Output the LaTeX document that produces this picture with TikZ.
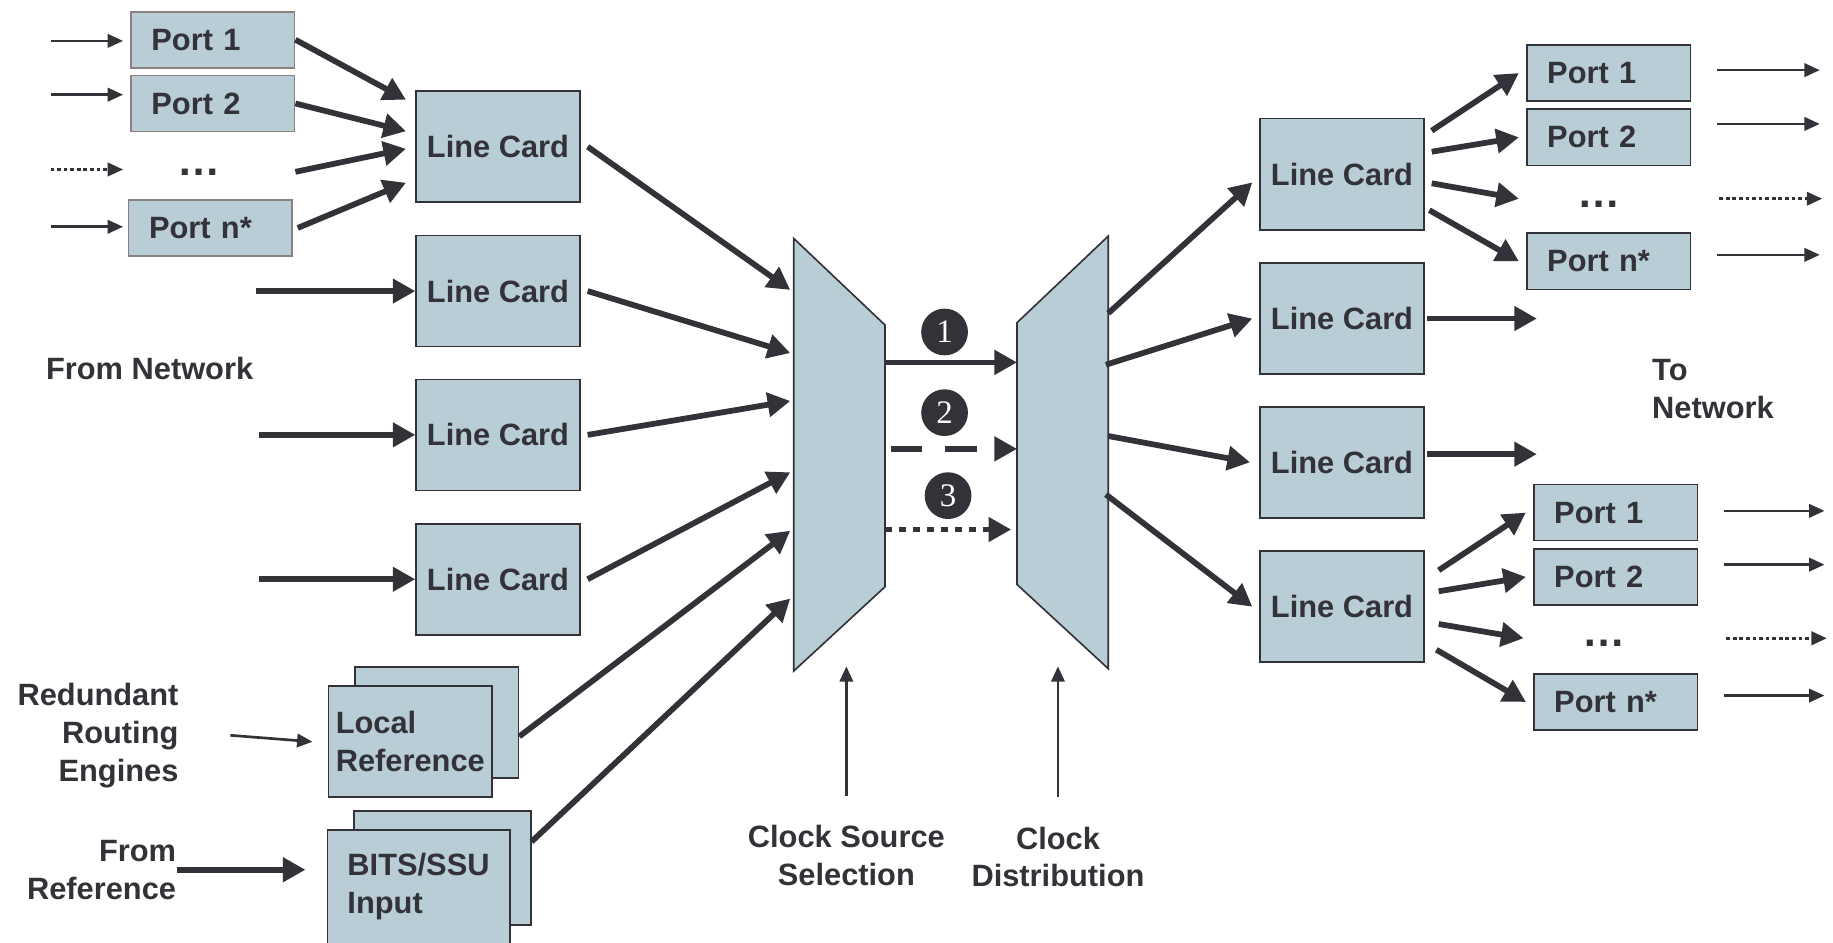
\documentclass[tikz,border=0pt]{standalone}
\usepackage{fontspec}
\setmainfont{Liberation Sans}
\newfontfamily\digitfont{Liberation Serif}
\usetikzlibrary{arrows.meta, calc}
\definecolor{cardfill}{RGB}{184, 205, 214}
\definecolor{ink}{RGB}{51, 50, 56}
\definecolor{portline}{RGB}{140, 128, 128}

\begin{document}
\begin{tikzpicture}[font=\fontsize{15}{18.4}\selectfont\bfseries, text=ink,
    card/.style={rectangle, draw=ink, line width=0.8pt, fill=cardfill,
                 minimum width=2.8cm, minimum height=1.9cm, align=left},
    port/.style={rectangle, draw=ink, line width=0.8pt, fill=cardfill,
                 minimum width=2.8cm, minimum height=0.96cm, text width=2.1cm, align=left},
    txt/.style={inner sep=0pt},
    dots/.style={inner sep=0pt, font=\fontsize{21}{21}\selectfont\bfseries},
    num/.style={circle, fill=ink, text=white, inner sep=0pt, minimum size=0.8cm,
                font=\digitfont\fontsize{16}{16}\selectfont},
    mux/.style={draw=ink, line width=0.8pt, fill=cardfill},
    bigarrow/.style={draw=ink, line width=2.8pt, -{Triangle[length=11pt, width=11.5pt]}},
    thinarrow/.style={draw=ink, line width=1.3pt, -{Triangle[length=7.5pt, width=6.5pt]}}]

    \useasboundingbox (0,0) rectangle (31.36,-16.12);

    % Inputs on the left
    \node[port, draw=portline] (lp1) at (3.64,-0.68) {Port 1};
    \node[port, draw=portline] (lp2) at (3.64,-1.77) {Port 2};
    \node[dots] (lpd) at (3.40,-2.94) {\ldots};
    \node[port, draw=portline] (lpn) at (3.60,-3.90) {Port n*};

    \node[card] (lc1) at (8.52,-2.51) {Line Card};
    \node[card] (lc2) at (8.52,-4.98) {Line Card};
    \node[card] (lc3) at (8.52,-7.44) {Line Card};
    \node[card] (lc4) at (8.52,-9.91) {Line Card};

    \node[card] (lrback) at (7.47,-12.36) {};
    \node[card] (lrfront) at (7.02,-12.69) {Local\\Reference};
    \node[card, minimum width=3.02cm, minimum height=1.94cm] (bitsback) at (7.57,-14.85) {};
    \node[card, minimum width=3.12cm, minimum height=1.94cm] (bitsfront) at (7.16,-15.17) {BITS/SSU\\Input};

    % Labels
    \node[txt] (fromnet) at (2.56,-6.30) {From Network};
    \node[txt, anchor=east, align=right] (rre) at (3.06,-12.58) {Redundant\\Routing\\Engines};
    \node[txt, anchor=east, align=right] (fref) at (3.02,-14.88) {From\\Reference};
    \node[txt, align=center] (css) at (14.48,-14.64) {Clock Source\\Selection};
    \node[txt, align=center] (cdist) at (18.10,-14.66) {Clock\\Distribution};
    \node[txt, anchor=west, align=left] (tonet) at (28.26,-6.66) {To\\Network};

    % Selector and distributor
    \draw[mux] (13.58,-4.08) -- (15.14,-5.56) -- (15.14,-10.04) -- (13.58,-11.48) -- cycle;
    \draw[mux] (17.40,-5.52) -- (18.96,-4.04) -- (18.96,-11.44) -- (17.40,-10.00) -- cycle;

    \coordinate (sel1) at (13.52,-4.96);
    \coordinate (sel2) at (13.52,-6.04);
    \coordinate (sel3) at (13.52,-6.86);
    \coordinate (sel4) at (13.52,-8.08);
    \coordinate (sel5) at (13.52,-9.08);
    \coordinate (sel6) at (13.52,-10.24);
    \coordinate (selo1) at (15.14,-6.20);
    \coordinate (selo2) at (15.24,-7.68);
    \coordinate (selo3) at (15.14,-9.06);
    \coordinate (disti1) at (17.40,-6.20);
    \coordinate (disti2) at (17.40,-7.68);
    \coordinate (disti3) at (17.30,-9.06);
    \coordinate (disto1) at (18.96,-5.36);
    \coordinate (disto2) at (18.92,-6.24);
    \coordinate (disto3) at (18.96,-7.46);
    \coordinate (disto4) at (18.92,-8.46);
    \coordinate (selctl) at (14.48,-11.40);
    \coordinate (distctl) at (18.10,-11.40);

    \node[num] (n1) at (16.16,-5.68) {1};
    \node[num] (n2) at (16.16,-7.06) {2};
    \node[num] (n3) at (16.22,-8.48) {3};

    % Outputs on the right
    \node[card] (rc1) at (22.96,-2.98) {Line Card};
    \node[card] (rc2) at (22.96,-5.45) {Line Card};
    \node[card] (rc3) at (22.96,-7.91) {Line Card};
    \node[card] (rc4) at (22.96,-10.38) {Line Card};

    \node[port] (rp1) at (27.52,-1.25) {Port 1};
    \node[port] (rp2) at (27.52,-2.35) {Port 2};
    \node[dots] (rpd) at (27.36,-3.50) {\ldots};
    \node[port] (rpn) at (27.52,-4.47) {Port n*};

    \node[port] (rq1) at (27.64,-8.77) {Port 1};
    \node[port] (rq2) at (27.64,-9.87) {Port 2};
    \node[dots] (rqd) at (27.44,-11.00) {\ldots};
    \node[port] (rqn) at (27.64,-12.01) {Port n*};

    % Arrows into the ports
    \draw[thinarrow] ([shift={(-1.36,-0.02)}]lp1.west) -- ([shift={(-0.12,-0.02)}]lp1.west);
    \draw[thinarrow] ([shift={(-1.36,0.15)}]lp2.west) -- ([shift={(-0.12,0.15)}]lp2.west);
    \draw[thinarrow, dash pattern=on 1.8pt off 1.4pt] ($(lp1.west |- lpd)+(-1.36,0.04)$) -- ($(lp1.west |- lpd)+(-0.12,0.04)$);
    \draw[thinarrow] ([shift={(-1.32,0.02)}]lpn.west) -- ([shift={(-0.08,0.02)}]lpn.west);

    % Ports to line card
    \draw[bigarrow] (lp1.east) -- ([shift={(-0.16,-0.16)}]lc1.north west);
    \draw[bigarrow] (lp2.east) -- ([shift={(-0.16,-0.70)}]lc1.north west);
    \draw[bigarrow] (lp1.east |- lpd) -- ([shift={(-0.16,-1.00)}]lc1.north west);
    \draw[bigarrow] ([xshift=0.08cm]lpn.east) -- ([shift={(-0.16,-1.58)}]lc1.north west);

    \draw[bigarrow] ([xshift=-2.72cm]lc2.west) -- (lc2.west);
    \draw[bigarrow] ([xshift=-2.68cm]lc3.west) -- (lc3.west);
    \draw[bigarrow] ([xshift=-2.68cm]lc4.west) -- (lc4.west);

    \draw[thinarrow] ([xshift=0.88cm]rre.east) -- ([xshift=-0.26cm]lrfront.west);
    \draw[bigarrow, shorten >=0.36cm] (fref.east) -- (fref.east -| bitsfront.west);

    % Line cards and references to the selector
    \draw[bigarrow] ([xshift=0.12cm]lc1.east) -- (sel1);
    \draw[bigarrow] ([xshift=0.12cm]lc2.east) -- (sel2);
    \draw[bigarrow] ([xshift=0.12cm]lc3.east) -- (sel3);
    \draw[bigarrow] ([xshift=0.12cm]lc4.east) -- (sel4);
    \draw[bigarrow] ([yshift=-0.24cm]lrback.east) -- (sel5);
    \draw[bigarrow] ([yshift=0.45cm]bitsback.east) -- (sel6);

    % Selected clocks
    \draw[bigarrow] (selo1) -- (disti1);
    \draw[bigarrow, dash pattern=on 15.3pt off 11.3pt] (selo2) -- (disti2);
    \draw[bigarrow, dash pattern=on 3.4pt off 3.4pt] (selo3) -- (disti3);

    \draw[thinarrow] ([yshift=0.5cm]css.north) -- (selctl);
    \draw[thinarrow] ([yshift=0.5cm]cdist.north) -- (distctl);

    % Distributor to line cards
    \draw[bigarrow] (disto1) -- ([shift={(-0.12,-0.14)}]rc1.west);
    \draw[bigarrow] (disto2) -- ([xshift=-0.12cm]rc2.west);
    \draw[bigarrow] (disto3) -- ([xshift=-0.16cm]rc3.west);
    \draw[bigarrow] (disto4) -- ([xshift=-0.12cm]rc4.west);

    \draw[bigarrow] ([shift={(0.12,-0.22)}]rc1.north east) -- ([xshift=-0.12cm]rp1.west);
    \draw[bigarrow] ([shift={(0.12,-0.58)}]rc1.north east) -- ([xshift=-0.12cm]rp2.west);
    \draw[bigarrow] ([shift={(0.12,-1.12)}]rc1.north east) -- ($(rp1.west |- rpd)+(-0.12,0.1)$);
    \draw[bigarrow] ([shift={(0.08,-1.58)}]rc1.north east) -- ([xshift=-0.12cm]rpn.west);

    \draw[bigarrow] ([xshift=0.04cm]rc2.east) -- ([xshift=1.92cm]rc2.east);
    \draw[bigarrow] ([shift={(0.04,0.14)}]rc3.east) -- ([shift={(1.92,0.14)}]rc3.east);

    \draw[bigarrow] ([shift={(0.24,-0.34)}]rc4.north east) -- ([xshift=-0.12cm]rq1.west);
    \draw[bigarrow] ([shift={(0.24,-0.70)}]rc4.north east) -- ([xshift=-0.12cm]rq2.west);
    \draw[bigarrow] ([shift={(0.24,-1.26)}]rc4.north east) -- ($(rq1.west |- rqd)+(-0.16,0.08)$);
    \draw[bigarrow] ([shift={(0.20,-1.70)}]rc4.north east) -- ([xshift=-0.12cm]rqn.west);

    % Out to the network
    \draw[thinarrow] ([shift={(0.44,0.05)}]rp1.east) -- ([shift={(2.2,0.05)}]rp1.east);
    \draw[thinarrow] ([shift={(0.44,0.23)}]rp2.east) -- ([shift={(2.2,0.23)}]rp2.east);
    \draw[thinarrow, dash pattern=on 1.8pt off 1.4pt] ($(rp1.east |- rpd)+(0.48,0.1)$) -- ($(rp1.east |- rpd)+(2.24,0.1)$);
    \draw[thinarrow] ([shift={(0.44,0.11)}]rpn.east) -- ([shift={(2.2,0.11)}]rpn.east);

    \draw[thinarrow] ([shift={(0.44,0.03)}]rq1.east) -- ([shift={(2.16,0.03)}]rq1.east);
    \draw[thinarrow] ([shift={(0.44,0.21)}]rq2.east) -- ([shift={(2.16,0.21)}]rq2.east);
    \draw[thinarrow, dash pattern=on 1.8pt off 1.4pt] ($(rq1.east |- rqd)+(0.48,0.08)$) -- ($(rq1.east |- rqd)+(2.2,0.08)$);
    \draw[thinarrow] ([shift={(0.44,0.11)}]rqn.east) -- ([shift={(2.16,0.11)}]rqn.east);
\end{tikzpicture}
\end{document}
